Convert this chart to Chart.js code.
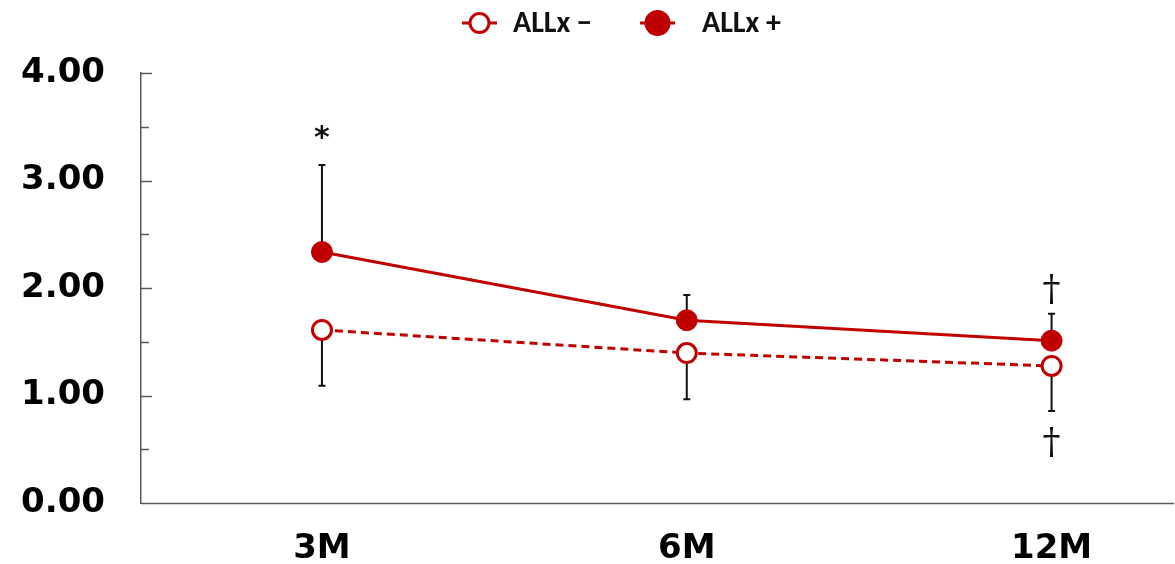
<!DOCTYPE html>
<html>
<head>
<meta charset="utf-8">
<script src="https://cdn.jsdelivr.net/npm/chart.js@4.4.1/dist/chart.umd.min.js"></script>
<style>
  html, body { margin: 0; padding: 0; background: #ffffff; overflow: hidden; }
  canvas { display: block; }
</style>
</head>
<body>
<canvas id="chart" width="1175" height="564"></canvas>
<script>
// Follow-up time points
const categories = ['3M', '6M', '12M'];
// Group means
const allxMinus = [1.61, 1.395, 1.275];
const allxPlus = [2.335, 1.70, 1.51];
// One-sided error bars (SD): upward for ALLx +, downward for ALLx −
const allxPlusSD = [0.81, 0.235, 0.25];
const allxMinusSD = [0.52, 0.43, 0.42];
// Y axis tick labels
const yTicks = [0, 1, 2, 3, 4];
// Significance marks: [category index, y value, symbol]
const marks = [
  [0, 3.44, '*'],
  [2, 1.98, '†'],
  [2, 0.55, '†']
];

const RED = '#C00000';
const AXIS = '#595959';
const TICK_FONT = '"DejaVu Sans"';

const legendItems = [
  { label: 'ALLx \u2212', filled: false, lineX: 462, textX: 513 },
  { label: 'ALLx +', filled: true, lineX: 640, textX: 702 }
];

const extrasPlugin = {
  id: 'extras',
  beforeDatasetsDraw(chart) {
    const ctx = chart.ctx;
    const xs = chart.scales.x, ys = chart.scales.y;
    const area = chart.chartArea;
    ctx.save();
    // category axis line, running out to the right edge
    ctx.strokeStyle = AXIS;
    ctx.lineWidth = 1.5;
    ctx.beginPath();
    ctx.moveTo(area.left, area.bottom + 0.5);
    ctx.lineTo(chart.width - 1, area.bottom + 0.5);
    ctx.stroke();
    // error bars
    ctx.strokeStyle = '#111111';
    ctx.lineWidth = 2;
    const cap = 3.5;
    const bar = (i, from, to) => {
      const x = xs.getPixelForValue(i);
      const y0 = ys.getPixelForValue(from);
      const y1 = ys.getPixelForValue(to);
      ctx.beginPath();
      ctx.moveTo(x, y0); ctx.lineTo(x, y1);
      ctx.moveTo(x - cap, y1); ctx.lineTo(x + cap, y1);
      ctx.stroke();
    };
    categories.forEach((c, i) => {
      bar(i, allxPlus[i], allxPlus[i] + allxPlusSD[i]);
      bar(i, allxMinus[i], allxMinus[i] - allxMinusSD[i]);
    });
    ctx.restore();
  },
  afterDatasetsDraw(chart) {
    const ctx = chart.ctx;
    const ys = chart.scales.y;
    const area = chart.chartArea;
    ctx.save();
    // inner tick marks on the value axis (major every 1, minor every 0.5)
    ctx.strokeStyle = AXIS;
    ctx.lineWidth = 1.5;
    for (let v = 0.5; v <= 4; v += 0.5) {
      const y = Math.round(ys.getPixelForValue(v)) + 0.5;
      const len = Number.isInteger(v) ? 11 : 8;
      ctx.beginPath();
      ctx.moveTo(area.left, y);
      ctx.lineTo(area.left + len, y);
      ctx.stroke();
    }
    ctx.restore();
  },
  afterDraw(chart) {
    const ctx = chart.ctx;
    const xs = chart.scales.x, ys = chart.scales.y;
    ctx.save();
    // significance symbols
    ctx.fillStyle = '#111111';
    ctx.textAlign = 'center';
    ctx.textBaseline = 'middle';
    marks.forEach(([i, v, s]) => {
      ctx.font = s === '*' ? 'bold 30px "DejaVu Sans"' : '36px "DejaVu Serif"';
      ctx.fillText(s, xs.getPixelForValue(i), ys.getPixelForValue(v) + (s === '*' ? 6 : 0));
    });
    // legend: line segment with marker, then label
    ctx.font = 'bold 30px "Carlito"';
    ctx.textAlign = 'left';
    legendItems.forEach((it) => {
      const x0 = it.lineX, y = 23;
      ctx.strokeStyle = RED;
      ctx.lineWidth = 3;
      ctx.beginPath();
      ctx.moveTo(x0, y); ctx.lineTo(x0 + 35, y);
      ctx.stroke();
      ctx.beginPath();
      ctx.arc(x0 + 17.5, y, it.filled ? 11.5 : 9.5, 0, Math.PI * 2);
      ctx.fillStyle = it.filled ? RED : '#ffffff';
      ctx.fill();
      ctx.stroke();
      ctx.fillStyle = '#111111';
      ctx.fillText(it.label, it.textX, y + 1);
    });
    ctx.restore();
  }
};

new Chart(document.getElementById('chart'), {
  type: 'line',
  data: {
    datasets: [
      {
        label: 'ALLx −',
        data: allxMinus.map((v, i) => ({ x: i, y: v })),
        borderColor: RED,
        backgroundColor: '#ffffff',
        borderWidth: 3,
        borderDash: [8, 5],
        pointRadius: 9.5,
        pointBorderWidth: 3,
        pointBackgroundColor: '#ffffff',
        pointBorderColor: RED,
        tension: 0
      },
      {
        label: 'ALLx +',
        data: allxPlus.map((v, i) => ({ x: i, y: v })),
        borderColor: RED,
        backgroundColor: RED,
        borderWidth: 3,
        pointRadius: 10.5,
        pointBorderWidth: 1,
        pointBackgroundColor: RED,
        pointBorderColor: RED,
        tension: 0
      }
    ]
  },
  options: {
    responsive: false,
    animation: false,
    clip: false,
    layout: { padding: { top: 73, right: 1, left: 0, bottom: 0 } },
    plugins: { legend: { display: false }, tooltip: { enabled: false } },
    scales: {
      x: {
        type: 'linear',
        min: -0.496,
        max: 2.304,
        afterBuildTicks(scale) { scale.ticks = categories.map((c, i) => ({ value: i })); },
        afterFit(scale) { scale.height = 61; },
        grid: { display: false, drawTicks: false },
        border: { display: false },
        ticks: {
          padding: 26,
          color: '#000000',
          font: { family: TICK_FONT, weight: 'bold', size: 34 },
          callback: (v) => categories[v]
        }
      },
      y: {
        min: 0,
        max: 4,
        afterBuildTicks(scale) { scale.ticks = yTicks.map(v => ({ value: v })); },
        afterFit(scale) { scale.width = 141; },
        grid: { display: false, drawTicks: false },
        border: { display: true, color: AXIS, width: 1.5 },
        ticks: {
          padding: 36,
          color: '#000000',
          font: { family: TICK_FONT, weight: 'bold', size: 34 },
          callback: (v) => Number(v).toFixed(2)
        }
      }
    }
  },
  plugins: [extrasPlugin]
});
</script>
</body>
</html>
